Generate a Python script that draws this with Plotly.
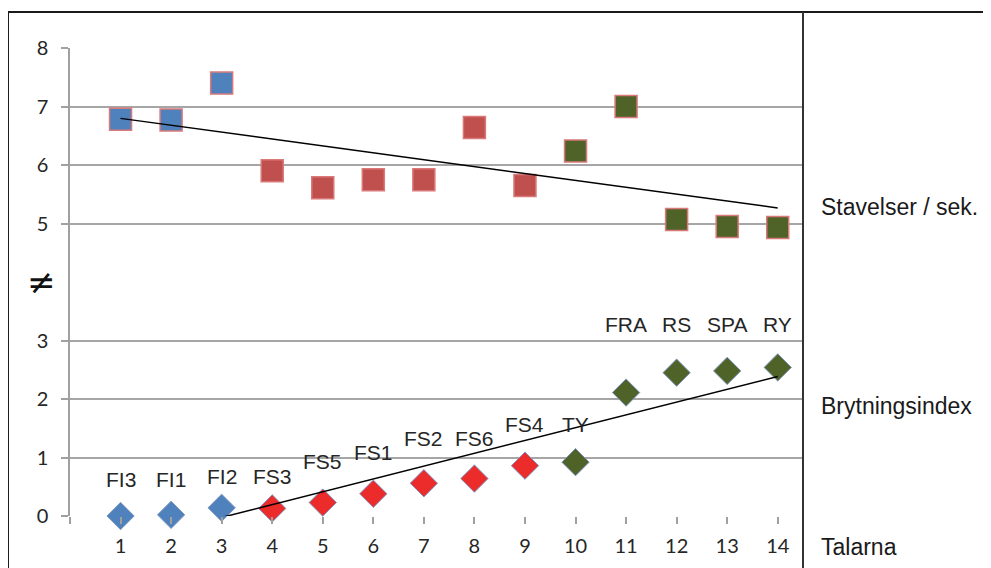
import numpy as np
import plotly.graph_objects as go

# ---- data ----
speakers = list(range(1, 15))
syll_per_sec = [6.78, 6.77, 7.40, 5.90, 5.61, 5.75, 5.75, 6.64, 5.65, 6.24, 7.00, 5.07, 4.95, 4.93]
refraction_idx = [0.00, 0.02, 0.14, 0.13, 0.23, 0.38, 0.56, 0.64, 0.86, 0.92, 2.11, 2.45, 2.48, 2.54]
speaker_labels = ["FI3", "FI1", "FI2", "FS3", "FS5", "FS1", "FS2", "FS6", "FS4", "TY",
                  "FRA", "RS", "SPA", "RY"]
label_heights = [0.62, 0.62, 0.68, 0.68, 0.94, 1.08, 1.33, 1.33, 1.56, 1.56,
                 3.27, 3.27, 3.27, 3.27]
groups = ["FI"] * 3 + ["FS"] * 6 + ["X"] * 5
y_ticks = [0, 1, 2, 3, 5, 6, 7, 8]
x_ticks = list(range(0, 15))

# ---- styles ----
square_fill = {"FI": "#4F81BD", "FS": "#C0504D", "X": "#4F6228"}
diamond_fill = {"FI": "#4F81BD", "FS": "#EC2B2B", "X": "#4F6228"}
FONT = "Liberation Sans, Arial, sans-serif"
TICKFONT = "Lato, Liberation Sans, sans-serif"

x = np.array(speakers, dtype=float)
fit_s = np.polyfit(x, syll_per_sec, 1)
fit_r = np.polyfit(x, refraction_idx, 1)

fig = go.Figure()

fig.add_trace(go.Scatter(
    x=speakers, y=syll_per_sec, mode="markers", cliponaxis=False,
    marker=dict(symbol="square", size=22,
                color=[square_fill[g] for g in groups],
                line=dict(color="#D9797A", width=1.5)),
    hoverinfo="x+y", showlegend=False))

fig.add_trace(go.Scatter(
    x=speakers, y=refraction_idx, mode="markers", cliponaxis=False,
    marker=dict(symbol="diamond", size=21,
                color=[diamond_fill[g] for g in groups],
                line=dict(color="#7F96C0", width=1)),
    hoverinfo="x+y", showlegend=False))

fig.add_trace(go.Scatter(
    x=[speakers[0], speakers[-1]],
    y=list(np.polyval(fit_s, [speakers[0], speakers[-1]])),
    mode="lines", line=dict(color="black", width=1.5),
    hoverinfo="skip", showlegend=False))

fig.add_trace(go.Scatter(
    x=[speakers[0], speakers[-1]],
    y=list(np.polyval(fit_r, [speakers[0], speakers[-1]])),
    mode="lines", line=dict(color="black", width=1.5),
    hoverinfo="skip", showlegend=False))

annotations = []
for xi, lab, ly in zip(speakers, speaker_labels, label_heights):
    annotations.append(dict(x=xi, y=ly, xref="x", yref="y", text=lab,
                            showarrow=False, xanchor="center", yanchor="middle",
                            font=dict(family=FONT, size=21, color="#262626")))

annotations.append(dict(x=-0.039, y=4, xref="paper", yref="y", text="≠",
                        showarrow=False, xanchor="center", yanchor="middle",
                        font=dict(family="DejaVu Sans", size=34, color="#111")))

for txt, yp in [("Stavelser / sek.", 0.660), ("Brytningsindex", 0.235), ("Talarna", -0.066)]:
    annotations.append(dict(x=1.0225, y=yp, xref="paper", yref="paper", text=txt,
                            showarrow=False, xanchor="left", yanchor="middle",
                            font=dict(family=FONT, size=23, color="#1a1a1a")))

shapes = [
    dict(type="line", xref="paper", yref="paper", x0=-0.0846, x1=1.3, y0=1.0769, y1=1.0769,
         line=dict(color="#1a1a1a", width=2)),
    dict(type="line", xref="paper", yref="paper", x0=-0.0846, x1=-0.0846, y0=1.0769, y1=-0.13,
         line=dict(color="#1a1a1a", width=2)),
    dict(type="line", xref="paper", yref="paper", x0=1.0, x1=1.0, y0=1.0769, y1=-0.13,
         line=dict(color="#333333", width=2)),
]

fig.update_layout(
    width=991, height=568,
    margin=dict(l=62, r=196, t=40, b=60),
    paper_bgcolor="white", plot_bgcolor="white",
    annotations=annotations, shapes=shapes,
    xaxis=dict(range=[0, 14.5], tickvals=x_ticks,
               ticktext=[""] + [str(v) for v in x_ticks[1:]],
               showgrid=False, zeroline=False,
               ticks="outside", ticklen=7, tickcolor="#A0A0A0", tickwidth=1.5,
               showline=False, ticklabelstandoff=5,
               tickfont=dict(family=TICKFONT, size=20, color="#262626")),
    yaxis=dict(range=[0, 8], tickvals=y_ticks,
               showgrid=True, gridcolor="#A6A6A6", gridwidth=1.5, zeroline=False,
               ticks="outside", ticklen=7, tickcolor="#A0A0A0", tickwidth=1.5,
               showline=True, linecolor="#A0A0A0", linewidth=1.5,
               ticklabelstandoff=9,
               tickfont=dict(family=TICKFONT, size=20, color="#262626")),
)

fig.write_html("out.html")
